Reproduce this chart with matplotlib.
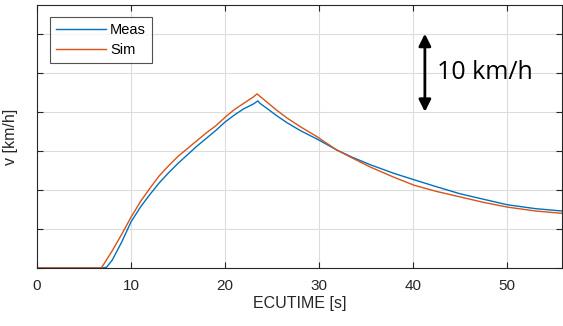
import matplotlib
matplotlib.use("Agg")
import matplotlib.pyplot as plt

t_meas = [0, 7.0, 7.4, 8, 9, 10, 11, 12, 13, 14, 15, 16, 17, 18, 19, 20, 21, 22, 23, 23.5,
          23.7, 24.5, 25.5, 26.6, 28, 29.8, 31.9, 33.5, 35.5, 38, 40.1, 42.5, 45, 47.5, 50, 53, 55.8]
v_meas = [0, 0, 0.1, 1.0, 3.3, 5.9, 7.8, 9.4, 10.9, 12.2, 13.4, 14.5, 15.6, 16.6, 17.6, 18.7, 19.6, 20.4, 21.0, 21.4,
          21.1, 20.4, 19.5, 18.6, 17.6, 16.5, 15.1, 14.2, 13.2, 12.1, 11.3, 10.4, 9.5, 8.8, 8.1, 7.6, 7.3]
t_sim = [0, 6.7, 6.9, 8, 9, 10, 11, 12, 13, 14, 15, 16, 17, 18, 19, 20, 21, 22, 23, 23.4,
         23.6, 24.5, 25.5, 26.6, 28, 29.8, 31.9, 33.5, 35.5, 38, 40.1, 42.5, 45, 47.5, 50, 53, 55.8]
v_sim = [0, 0, 0.1, 2.2, 4.3, 6.5, 8.5, 10.2, 11.8, 13.1, 14.3, 15.3, 16.3, 17.3, 18.2, 19.3, 20.3, 21.1, 21.9, 22.3,
         22.1, 21.2, 20.2, 19.2, 18.1, 16.8, 15.1, 14.1, 12.9, 11.6, 10.6, 9.8, 9.1, 8.4, 7.8, 7.3, 7.0]

xticks = [0, 10, 20, 30, 40, 50]
yticks = [0, 5, 10, 15, 20, 25, 30]

plt.rcParams['font.family'] = ['Liberation Sans', 'DejaVu Sans']
fig = plt.figure(figsize=(5.63, 3.26), dpi=100)
ax = fig.add_axes([0.0657, 0.178, 0.932, 0.807])

ax.plot(t_meas, v_meas, color='#0072BD', lw=1.0, label='Meas')
ax.plot(t_sim, v_sim, color='#D95319', lw=1.0, label='Sim')

ax.set_xlim(0, 55.8)
ax.set_ylim(0, 33.7)
ax.set_xticks(xticks)
ax.set_yticks(yticks)
ax.set_yticklabels([])
ax.grid(True, color='#dcdcdc', lw=0.8)
ax.set_axisbelow(True)
ax.tick_params(direction='in', top=True, right=True, length=4, colors='#262626',
               labelsize=11, pad=8)
for s in ax.spines.values():
    s.set_color('#262626')
    s.set_linewidth(0.8)

ax.set_xlabel('ECUTIME [s]', fontsize=11.5, color='#262626', labelpad=2)
ax.set_ylabel('v [km/h]', fontsize=11.5, color='#262626', labelpad=6)

leg = ax.legend(loc='upper left', bbox_to_anchor=(0.025, 0.954), fontsize=10.5,
                frameon=True, fancybox=False, handlelength=3.4, borderpad=0.4,
                labelspacing=0.45, handletextpad=0.3, borderaxespad=0)
leg.get_frame().set_edgecolor('#262626')
leg.get_frame().set_linewidth(0.8)

ax.annotate('', xy=(41.25, 30.0), xytext=(41.25, 20.0),
            arrowprops=dict(arrowstyle='<|-|>', color='black', lw=2,
                            mutation_scale=18, shrinkA=0, shrinkB=0))
ax.text(42.5, 25.0, '10 km/h', fontsize=18, color='black', va='center', ha='left',
        family=['Open Sans', 'DejaVu Sans'])

fig.savefig('out.png', dpi=100)
